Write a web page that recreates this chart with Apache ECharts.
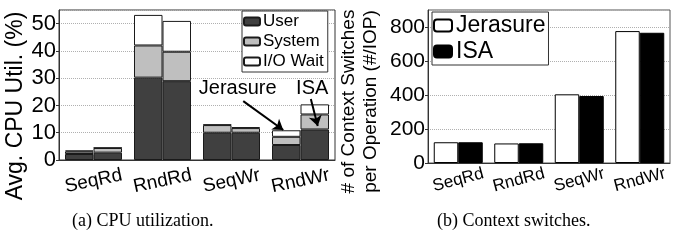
<!DOCTYPE html>
<html>
<head>
<meta charset="utf-8">
<script src="https://cdn.jsdelivr.net/npm/echarts@6/dist/echarts.min.js"></script>
<style>
  html, body { margin: 0; padding: 0; background: #fff; }
  #main { width: 692px; height: 241px; }
</style>
</head>
<body>
<div id="main"></div>
<script>
// workloads (same on both panels)
var categories = ['SeqRd', 'RndRd', 'SeqWr', 'RndWr'];

// (a) CPU utilization, stacked, one stack per library
var jerUser = [2.2, 30.2, 10.0, 5.5];
var jerSystem = [0.9, 11.8, 2.8, 3.0];
var jerIoWait = [0.4, 11.2, 0.2, 2.4];
var isaUser = [2.7, 28.9, 10.0, 11.2];
var isaSystem = [1.7, 10.8, 1.7, 5.5];
var isaIoWait = [0.1, 11.3, 0.3, 3.7];

// (b) context switches per IO
var jerSwitches = [122, 115, 404, 776];
var isaSwitches = [122, 116, 394, 766];

// annotation arrows on panel (a): [x, y] in category-index / percent units
var arrowJerasure = [[2.17, 21.6], [2.75, 11.0]];
var arrowIsa = [[3.15, 22.4], [3.25, 12.5]];
var noteLabels = [[2.09, 26.4, 'Jerasure'], [3.17, 26.4, 'ISA']];

var SANS = 'Liberation Sans, Arial, sans-serif';
var COLORS = {
    user: '#404040',
    system: '#bfbfbf',
    io: '#ffffff',
    edge: '#1a1a1a'
};

var chart = echarts.init(document.getElementById('main'), null, { renderer: 'canvas' });

function cpuBar(name, stack, data, color) {
    return {
        name: name,
        type: 'bar',
        stack: stack,
        xAxisIndex: 0,
        yAxisIndex: 0,
        barWidth: 28.5,
        barGap: '0%',
        data: data,
        itemStyle: { color: color, borderColor: COLORS.edge, borderWidth: 1 }
    };
}

var splitStyle = { show: true, lineStyle: { color: '#b0b0b0', type: 'dotted', width: 1 } };

var option = {
    animation: false,
    textStyle: { fontFamily: SANS, color: '#000' },
    grid: [
        { left: 59, top: 10, width: 276, height: 150, show: true, borderColor: '#333', borderWidth: 1, outerBoundsMode: 'none', containLabel: false },
        { left: 428, top: 10, width: 242, height: 153, show: true, borderColor: '#555', borderWidth: 1, outerBoundsMode: 'none', containLabel: false }
    ],
    legend: [
        {
            data: ['User', 'System', 'I/O Wait'],
            orient: 'vertical',
            left: 242, top: 11,
            itemWidth: 16, itemHeight: 8, itemGap: 3,
            padding: [2, 4, 2, 1],
            borderColor: '#333', borderWidth: 1,
            backgroundColor: '#fff',
            textStyle: { fontSize: 17, fontFamily: SANS, color: '#000', padding: [0, 0, 0, -2] }
        },
        {
            data: ['Jerasure', 'ISA'],
            orient: 'vertical',
            left: 432, top: 12,
            itemWidth: 18, itemHeight: 12, itemGap: 3,
            padding: [2, 3, 2, 1],
            borderColor: '#333', borderWidth: 1,
            backgroundColor: '#fff',
            textStyle: { fontSize: 23, fontFamily: SANS, color: '#000', padding: [0, 0, 0, -1] }
        }
    ],
    xAxis: [
        {
            type: 'category', gridIndex: 0, data: categories,
            axisLine: { lineStyle: { color: '#333' } },
            axisTick: { show: false },
            axisLabel: { interval: 0, rotate: 12, fontSize: 19, color: '#000', align: 'center', verticalAlign: 'middle', margin: 21 }
        },
        {
            type: 'category', gridIndex: 1, data: categories,
            axisLine: { lineStyle: { color: '#333' } },
            axisTick: { show: false },
            axisLabel: { interval: 0, rotate: 15, fontSize: 17, color: '#000', align: 'center', verticalAlign: 'middle', margin: 17 }
        },
        // hidden value axis over panel (a), used to place the annotations
        { type: 'value', gridIndex: 0, min: -0.5, max: 3.5, show: false }
    ],
    yAxis: [
        {
            type: 'value', gridIndex: 0, min: 0, max: 55, interval: 10,
            name: 'Avg. CPU Util. (%)', nameLocation: 'middle', nameGap: 27,
            nameTextStyle: { fontSize: 23, color: '#000', padding: [0, 42, 0, 0] },
            axisLine: { show: true, onZero: false, lineStyle: { color: '#333' } },
            axisTick: { show: true, length: 3 },
            axisLabel: { fontSize: 22, color: '#000', margin: 3, showMaxLabel: false },
            splitLine: splitStyle
        },
        {
            type: 'value', gridIndex: 1, min: 0, max: 900, interval: 200,
            name: '# of Context Switches\nper Operation (#/IOP)', nameLocation: 'middle', nameGap: 46,
            nameTextStyle: { fontSize: 19, lineHeight: 22, color: '#000', padding: [0, 30, 0, 0] },
            axisLine: { show: true, onZero: false, lineStyle: { color: '#333' } },
            axisTick: { show: true, length: 3 },
            axisLabel: { fontSize: 21, color: '#000', margin: 3, showMaxLabel: false },
            splitLine: splitStyle
        }
    ],
    series: [
        cpuBar('User', 'jer', jerUser, COLORS.user),
        cpuBar('System', 'jer', jerSystem, COLORS.system),
        cpuBar('I/O Wait', 'jer', jerIoWait, COLORS.io),
        cpuBar('User', 'isa', isaUser, COLORS.user),
        cpuBar('System', 'isa', isaSystem, COLORS.system),
        cpuBar('I/O Wait', 'isa', isaIoWait, COLORS.io),
        {
            name: 'Jerasure', type: 'bar', xAxisIndex: 1, yAxisIndex: 1,
            barWidth: 24.5, barGap: '0%', data: jerSwitches,
            itemStyle: { color: '#fff', borderColor: '#000', borderWidth: 1 }
        },
        {
            name: 'ISA', type: 'bar', xAxisIndex: 1, yAxisIndex: 1,
            barWidth: 24.5, barGap: '0%', data: isaSwitches,
            itemStyle: { color: '#000', borderColor: '#000', borderWidth: 1 }
        },
        {
            type: 'lines', coordinateSystem: 'cartesian2d', xAxisIndex: 2, yAxisIndex: 0,
            color: '#000',
            symbol: ['none', 'arrow'], symbolSize: 10, silent: true, z: 10,
            itemStyle: { color: '#000', opacity: 1 },
            lineStyle: { color: '#000', width: 2, opacity: 1, curveness: 0 },
            data: [{ coords: arrowJerasure }, { coords: arrowIsa }]
        },
        {
            type: 'scatter', xAxisIndex: 2, yAxisIndex: 0, symbolSize: 0, silent: true, z: 10,
            color: '#000',
            itemStyle: { opacity: 1 },
            data: noteLabels,
            label: {
                show: true, position: 'inside', fontSize: 20, color: '#000', fontFamily: SANS,
                textBorderWidth: 0, opacity: 1,
                formatter: function (p) { return p.value[2]; }
            }
        }
    ],
    graphic: [
        {
            type: 'text', left: 72, top: 212,
            style: { text: '(a) CPU utilization.', font: '18px "Liberation Serif", "Times New Roman", serif', fill: '#000' }
        },
        {
            type: 'text', left: 437, top: 212,
            style: { text: '(b) Context switches.', font: '18px "Liberation Serif", "Times New Roman", serif', fill: '#000' }
        }
    ]
};

chart.setOption(option);
</script>
</body>
</html>
